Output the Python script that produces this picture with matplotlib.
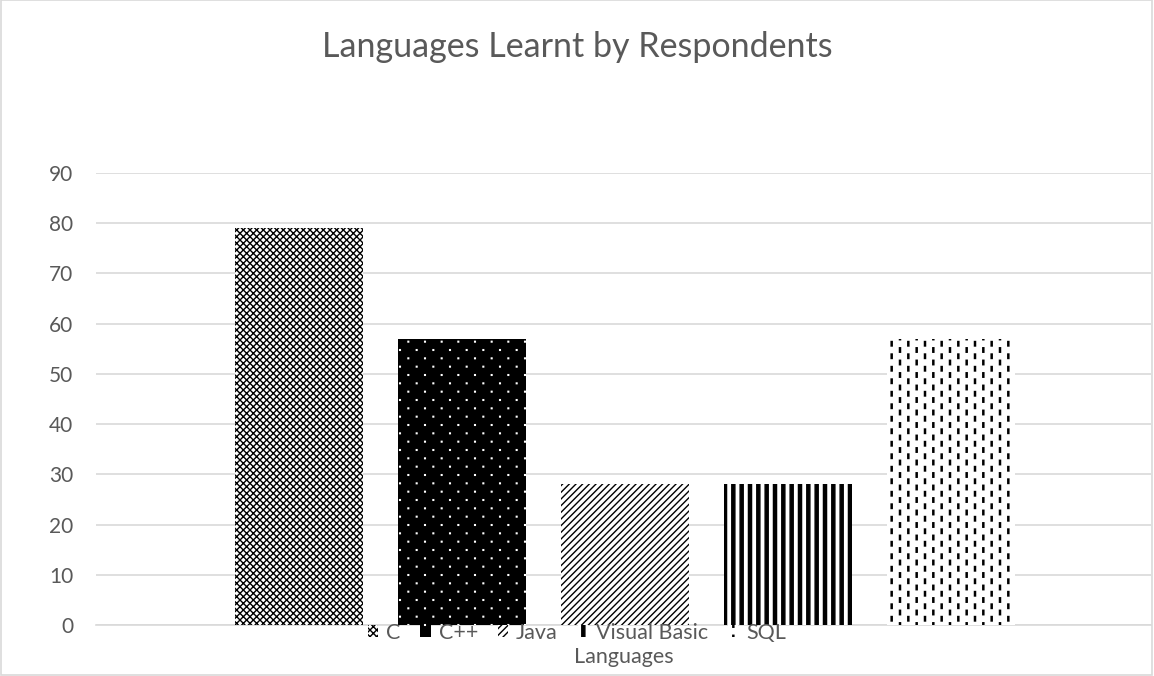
import warnings
import numpy as np
import matplotlib
matplotlib.use("Agg")
import matplotlib.pyplot as plt
import matplotlib.hatch as mhatch
from matplotlib.path import Path
from matplotlib.patches import Rectangle

warnings.filterwarnings("ignore", category=matplotlib.MatplotlibDeprecationWarning)

# ---- data -------------------------------------------------------------
languages = ["C", "C++", "Java", "Visual Basic", "SQL"]
respondents = [79, 57, 28, 28, 57]
y_ticks = [0, 10, 20, 30, 40, 50, 60, 70, 80, 90]
chart_title = "Languages Learnt by Respondents"
axis_title = "Languages"

# ---- custom block hatches (filled rectangles tiled in the unit hatch cell) --
def grid(step_x, step_y, row_shift=0.0, col_shift=0.0):
    nx, ny = int(round(1 / step_x)), int(round(1 / step_y))
    pts = []
    for i in range(-1, nx + 2):
        for j in range(-1, ny + 2):
            x = i * step_x + (row_shift if j % 2 else 0.0)
            y = j * step_y + (col_shift if i % 2 else 0.0)
            pts.append((x, y))
    return np.array(pts)


def register_block_hatch(char, centres, w, h):
    rect = np.array([[-w / 2, -h / 2], [w / 2, -h / 2], [w / 2, h / 2],
                     [-w / 2, h / 2], [-w / 2, -h / 2]])
    verts = (centres[:, None, :] + rect[None]).reshape(-1, 2)
    kinds = np.tile([Path.MOVETO, Path.LINETO, Path.LINETO, Path.LINETO,
                     Path.CLOSEPOLY], len(centres))

    class _BlockHatch(mhatch.HatchPatternBase):
        def __init__(self, hatch, density):
            self.num_vertices = len(verts) if (hatch and char in hatch) else 0

        def set_vertices_and_codes(self, vertices, codes):
            vertices[:] = verts
            codes[:] = kinds

    mhatch._hatch_types.append(_BlockHatch)


# staggered dots, vertical bars, staggered vertical dashes
register_block_hatch(",", grid(1 / 6, 1 / 12, row_shift=1 / 12), 0.007, 0.007)
register_block_hatch("!", np.array([[k / 12, 0.5] for k in range(-1, 14)]), 0.031, 1.2)
register_block_hatch(":", grid(1 / 12, 1 / 8, col_shift=1 / 16), 0.011, 0.045)

plt.rcParams["font.family"] = ["Lato", "DejaVu Sans"]
plt.rcParams["hatch.linewidth"] = 1.0

text_grey = "#595959"
line_grey = "#d9d9d9"

styles = [
    dict(facecolor="white", edgecolor="black", hatch="xxxxx"),
    dict(facecolor="black", edgecolor="white", hatch=","),
    dict(facecolor="white", edgecolor="black", hatch="/////"),
    dict(facecolor="white", edgecolor="black", hatch="!"),
    dict(facecolor="white", edgecolor="black", hatch=":"),
]

fig = plt.figure(figsize=(11.54, 6.76), dpi=100)
ax = fig.add_axes([0.0832, 0.0754, 0.9142, 0.6686])

bar_width = 0.785
handles = []
for i, (name, value, st) in enumerate(zip(languages, respondents, styles)):
    b = ax.bar(i, value, width=bar_width, linewidth=0, label=name, zorder=3, **st)
    handles.append(b)

ax.set_xlim(-1.245, 5.227)
ax.set_ylim(0, 90)
ax.set_yticks(y_ticks)
ax.set_xticks([])
ax.yaxis.grid(True, color=line_grey, linewidth=1.2, zorder=0)
ax.set_axisbelow(True)
for side in ("left", "right", "top"):
    ax.spines[side].set_visible(False)
ax.spines["bottom"].set_color(line_grey)
ax.spines["bottom"].set_linewidth(1.2)
ax.tick_params(axis="y", length=0, pad=16.5, labelsize=15, labelcolor=text_grey)

ax.set_xlabel(axis_title, fontsize=15.5, color=text_grey, labelpad=16)

fig.text(0.5, 0.9305, chart_title, ha="center", va="center",
         fontsize=24.5, color=text_grey)

leg = fig.legend(handles=handles, labels=languages, loc="center",
                 bbox_to_anchor=(0.5, 0.0636), ncol=5, frameon=False,
                 fontsize=15.5, handlelength=0.47, handleheight=0.47,
                 handletextpad=0.37, columnspacing=0.93, borderpad=0)
for t in leg.get_texts():
    t.set_color(text_grey)

fig.patches.append(Rectangle((0.0005, 0.0008), 0.998, 0.9985, transform=fig.transFigure,
                             fill=False, edgecolor=line_grey, linewidth=1.2))

fig.savefig("out.png", dpi=100)
